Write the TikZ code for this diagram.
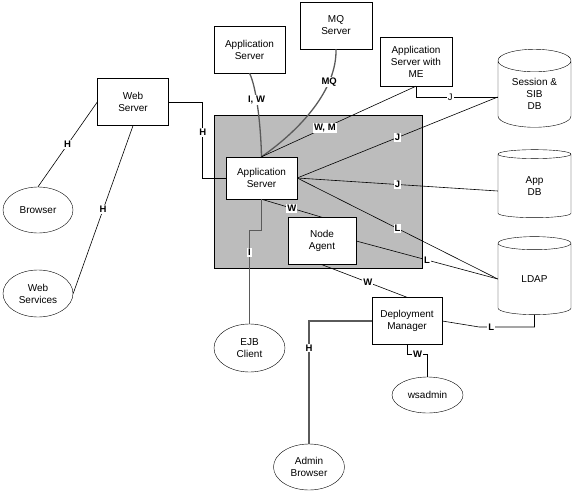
\documentclass[tikz,border=0pt]{standalone}
\usepackage{fontspec}
\setmainfont{Liberation Sans}
\usepackage{xcolor}
\usepackage{tikz}
\usetikzlibrary{shapes.geometric,positioning}

\definecolor{cellgray}{RGB}{188,188,188}
\definecolor{wiregray}{RGB}{90,90,90}

\tikzset{
  srvbox/.style={draw, fill=white, minimum width=71pt, minimum height=47pt, align=center, inner sep=0pt, font=\fontsize{10}{12}\selectfont},
  client/.style={draw, ellipse, fill=white, minimum width=71pt, minimum height=46pt, align=center, inner sep=0pt, font=\fontsize{10}{12}\selectfont},
  dbcyl/.style={draw, cylinder, shape border rotate=90, aspect=0.5, fill=white, minimum width=73pt, minimum height=78pt, align=center, inner sep=0pt, font=\fontsize{10}{12}\selectfont},
  proto/.style={fill=white, inner sep=1pt, font=\fontsize{9.5}{10}\selectfont\bfseries},
  plainproto/.style={fill=white, inner sep=1pt, font=\fontsize{9.5}{10}\selectfont},
  wire/.style={draw=black, line width=0.6pt},
  greywire/.style={draw=wiregray, line width=1.3pt}
}

\begin{document}
\begin{tikzpicture}[x=1pt,y=1pt,yscale=-1]
\useasboundingbox (0,0) rectangle (572,492);

%Shape: Rectangle (the cell)
\node [draw, fill=cellgray, minimum width=208pt, minimum height=153pt, inner sep=0pt] (cell) at (318,191.5) {};

%Shape: Rectangles
\node [srvbox] (websrv) at (133,102) {Web\\Server};
\node [srvbox] (apptop) at (249.5,49.5) {Application\\Server};
\node [srvbox, minimum width=72pt] (mqsrv) at (336,25.5) {MQ\\Server};
\node [srvbox, minimum width=72pt, minimum height=49pt] (appme) at (416,61.5) {Application\\Server with\\ME};
\node [srvbox, minimum height=42pt] (appsrv) at (261.5,178) {Application\\Server};
\node [srvbox, minimum width=68pt] (nodeag) at (322,241) {Node\\Agent};
\node [srvbox, minimum width=70pt] (depmgr) at (407,321) {Deployment\\Manager};

%Shape: Ellipses
\node [client, minimum width=70pt] (browser) at (38,210) {Browser};
\node [client, minimum width=70pt, minimum height=47pt] (websvc) at (38,293.5) {Web\\Services};
\node [client, minimum height=48pt] (ejbcl) at (249.5,348) {EJB\\Client};
\node [client, minimum height=36pt] (wsadm) at (427.5,395) {wsadmin};
\node [client] (admbr) at (309,467) {Admin\\Browser};

%Shape: Cylinders
\node [dbcyl] (sessdb) at (534.5,94) {Session \&\\SIB\\DB};
\node [dbcyl, minimum height=68pt] (appdb) at (534.5,186) {App\\DB};
\node [dbcyl] (ldap) at (534.5,279) {LDAP};

%Straight Lines
\draw [wire] (browser.north) -- (websrv.west) node [proto, midway] {H};
\draw [wire] (websvc.east) -- (websrv.south) node [proto, midway] {H};
\draw [wire] (websrv.east) -- ++(34,0) |- (appsrv.west) node [proto, pos=0.2] {H};

\draw [greywire] (apptop.south) .. controls (257,88) and (261,130) .. (appsrv.north) node [proto, pos=0.38] {I, W};
\draw [greywire] (mqsrv.south) .. controls (337,90) and (300,130) .. (appsrv.north) node [proto, pos=0.27] {MQ};
\draw [wire] (appme.south) -- (appsrv.north) node [proto, pos=0.59] {W, M};
\draw [wire] (appme.south) |- ([yshift=3pt]sessdb.west) node [plainproto, pos=0.71] {J};

\draw [wire] (appsrv.east) -- ([yshift=3pt]sessdb.west) node [proto, midway] {J};
\draw [wire] (appsrv.east) -- ([yshift=5pt]appdb.west) node [proto, midway] {J};
\draw [wire] (appsrv.east) -- (ldap.west) node [proto, midway] {L};
\draw [wire] (nodeag.east) -- (ldap.west) node [proto, midway] {L};
\draw [wire] (appsrv.south) -- (nodeag.north) node [proto, midway] {W};
\draw [greywire] (appsrv.south) -- ++(0,31) -| (ejbcl.north) node [proto, pos=0.62] {I};

\draw [wire] (nodeag.south) -- (depmgr.north) node [proto, pos=0.54] {W};
\draw [wire] (depmgr.east) -- ++(37,6) -| (ldap.south) node [proto, pos=0.11] {L};
\draw [greywire] (depmgr.west) -| (admbr.north) node [proto, pos=0.61] {H};
\draw [wire] (depmgr.south) -- ++(0,10) -| (wsadm.north) node [proto, pos=0.26] {W};

\end{tikzpicture}
\end{document}
